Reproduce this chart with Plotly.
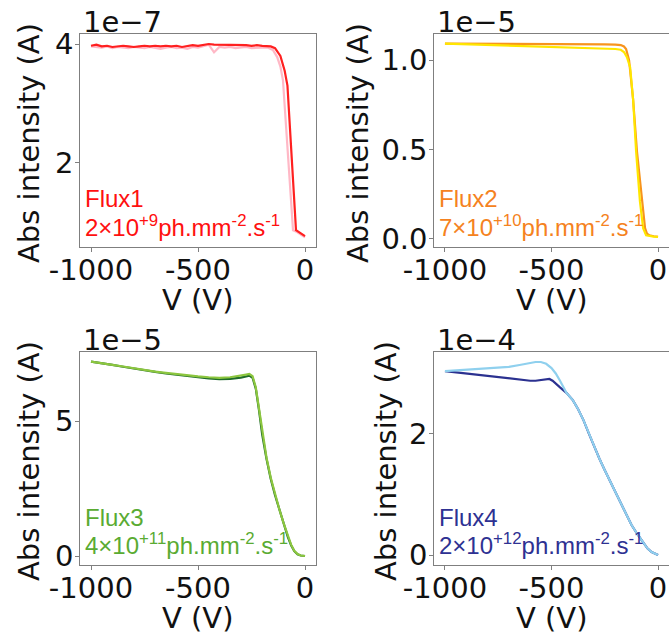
import plotly.graph_objects as go

# ---------------- data (current in the units shown by each panel's multiplier) -------------
# Flux1, multiplier 1e-7 A
v1_a = [-1000, -975, -950, -925, -900, -875, -850, -825, -800, -775, -750, -725, -700, -675,
        -650, -625, -600, -575, -550, -525, -500, -475, -450, -425, -400, -375, -350, -325,
        -300, -275, -250, -225, -200, -175, -150, -130, -115, -103, -80, -56, -37, -15, 0]
i1_a = [3.96, 3.95, 3.94, 3.96, 3.93, 3.95, 3.94, 3.93, 3.95, 3.94, 3.93, 3.95, 3.94, 3.92,
        3.94, 3.95, 3.93, 3.94, 3.92, 3.95, 3.94, 3.96, 3.99, 3.86, 3.95, 3.94, 3.95, 3.93,
        3.94, 3.95, 3.93, 3.94, 3.94, 3.94, 3.90, 3.78, 3.62, 3.39, 2.10, 0.87, 0.84, 0.79, 0.75]
v1_b = [-1000, -975, -950, -925, -900, -875, -850, -825, -800, -775, -750, -725, -700, -675,
        -650, -625, -600, -575, -550, -525, -500, -475, -450, -425, -400, -375, -350, -325,
        -300, -275, -250, -225, -200, -175, -160, -140, -115, -95, -82, -42, -30, -15, 0]
i1_b = [3.97, 3.99, 3.96, 3.97, 3.95, 3.96, 3.97, 3.96, 3.95, 3.96, 3.97, 3.96, 3.97, 3.96,
        3.97, 3.96, 3.97, 3.95, 3.96, 3.98, 3.97, 3.99, 4.00, 3.99, 3.99, 3.98, 3.99, 3.98,
        3.99, 3.98, 3.97, 3.98, 3.97, 3.97, 3.96, 3.93, 3.80, 3.55, 3.30, 0.87, 0.84, 0.80, 0.77]

# Flux2, multiplier 1e-5 A
v2_a = [-1000, -900, -800, -700, -600, -500, -400, -300, -250, -200, -175, -160, -150,
        -136, -117, -99, -75, -61, -52, -40, -20, 0]
i2_a = [1.092, 1.092, 1.091, 1.091, 1.090, 1.090, 1.089, 1.089, 1.088, 1.087, 1.084, 1.076,
        1.062, 1.000, 0.780, 0.490, 0.210, 0.060, 0.030, 0.020, 0.015, 0.012]
v2_b = [-1000, -900, -800, -700, -600, -500, -400, -300, -250, -200, -175, -160, -146,
        -131, -117, -103, -85, -70, -56, -40, -20, 0]
i2_b = [1.092, 1.088, 1.084, 1.080, 1.077, 1.074, 1.071, 1.068, 1.066, 1.062, 1.058, 1.045,
        1.017, 0.960, 0.780, 0.490, 0.210, 0.060, 0.020, 0.015, 0.013, 0.012]

# Flux3, multiplier 1e-5 A
v3_a = [-1000, -950, -900, -850, -800, -750, -700, -650, -600, -550, -500, -450, -400, -350,
        -300, -275, -260, -245, -230, -215, -200, -180, -160, -140, -120, -100, -80, -65,
        -50, -35, -20, 0]
i3_a = [7.20, 7.15, 7.08, 7.01, 6.94, 6.88, 6.82, 6.76, 6.71, 6.66, 6.62, 6.58, 6.55, 6.56,
        6.61, 6.66, 6.68, 6.60, 6.20, 5.40, 4.50, 3.60, 2.85, 2.25, 1.70, 1.20, 0.70, 0.40,
        0.18, 0.06, 0.02, 0.00]
v3_b = [-1000, -950, -900, -850, -800, -750, -700, -650, -600, -550, -500, -450, -400, -350,
        -300, -275, -260, -245, -230, -215, -200, -180, -160, -140, -120, -100, -80, -65,
        -50, -35, -20, 0]
i3_b = [7.20, 7.15, 7.08, 7.02, 6.95, 6.89, 6.83, 6.78, 6.73, 6.69, 6.65, 6.62, 6.60, 6.62,
        6.67, 6.72, 6.74, 6.66, 6.25, 5.45, 4.55, 3.65, 2.90, 2.28, 1.73, 1.22, 0.72, 0.42,
        0.19, 0.07, 0.02, 0.00]

# Flux4, multiplier 1e-4 A
v4_a = [-1000, -950, -900, -850, -800, -750, -700, -650, -600, -575, -550, -525, -510, -495,
        -480, -460, -430, -400, -375, -350, -325, -300, -275, -250, -225, -200, -175, -150,
        -125, -100, -75, -60, -50, -30, -15, 0]
i4_a = [3.04, 3.02, 3.00, 2.98, 2.96, 2.93, 2.91, 2.89, 2.88, 2.88, 2.89, 2.91, 2.91, 2.88,
        2.83, 2.77, 2.68, 2.56, 2.41, 2.23, 2.01, 1.79, 1.59, 1.40, 1.22, 1.05, 0.86, 0.67,
        0.50, 0.36, 0.23, 0.15, 0.11, 0.05, 0.02, 0.00]
v4_b = [-1000, -950, -900, -850, -800, -750, -700, -650, -600, -575, -550, -525, -500, -480,
        -460, -445, -430, -400, -375, -350, -325, -300, -275, -250, -225, -200, -175, -150,
        -125, -100, -75, -60, -50, -30, -15, 0]
i4_b = [3.04, 3.05, 3.06, 3.07, 3.08, 3.09, 3.11, 3.14, 3.17, 3.19, 3.19, 3.16, 3.09, 3.00,
        2.88, 2.78, 2.68, 2.56, 2.41, 2.23, 2.01, 1.79, 1.59, 1.40, 1.22, 1.05, 0.86, 0.67,
        0.50, 0.36, 0.23, 0.15, 0.11, 0.05, 0.02, 0.00]

flux_names = ["Flux1", "Flux2", "Flux3", "Flux4"]
flux_rates = ["2×10<sup>+9</sup>ph.mm<sup>-2</sup>.s<sup>-1</sup>",
              "7×10<sup>+10</sup>ph.mm<sup>-2</sup>.s<sup>-1</sup>",
              "4×10<sup>+11</sup>ph.mm<sup>-2</sup>.s<sup>-1</sup>",
              "2×10<sup>+12</sup>ph.mm<sup>-2</sup>.s<sup>-1</sup>"]
multipliers = ["1e−7", "1e−5", "1e−5", "1e−4"]
x_ticks = [-1000, -500, 0]
x_tick_text = ["-1000", "-500", "0"]
y_ticks = [[2, 4], [0.0, 0.5, 1.0], [0, 5], [0, 2]]
y_tick_text = [["2", "4"], ["0.0", "0.5", "1.0"], ["0", "5"], ["0", "2"]]
y_ranges = [[0.588, 4.168], [-0.045, 1.146], [-0.333, 7.556], [-0.165, 3.355]]

series = [
    [(v1_a, i1_a, "#ffb8c6"), (v1_b, i1_b, "#ff2020")],
    [(v2_a, i2_a, "#f7941d"), (v2_b, i2_b, "#ffe600")],
    [(v3_a, i3_a, "#1e6b2a"), (v3_b, i3_b, "#8cc63f")],
    [(v4_a, i4_a, "#2b3190"), (v4_b, i4_b, "#8fd0ee")],
]
label_colors = ["#ff1010", "#f58220", "#5aab32", "#2e3192"]

# ---------------- layout geometry (pixels of a 669 x 637 canvas) ----------------
W, H = 669, 637
boxes = [(80.3, 315.7, 34, 247), (434.3, 668.7, 34, 247),
         (80.3, 315.7, 352, 565), (434.3, 668.7, 352, 565)]
# horizontal centre of each y-axis title (wider tick labels push it further left)
ytitle_x = [29, 358, 29, 386]


def px(x):
    return x / W


def py(y):
    return 1 - y / H


fig = go.Figure()
tick_font = dict(family="DejaVu Sans", size=29, color="#111111")
annotations = []

for k in range(4):
    xn = "x" if k == 0 else f"x{k + 1}"
    yn = "y" if k == 0 else f"y{k + 1}"
    for v, c, col in series[k]:
        fig.add_trace(go.Scatter(x=v, y=c, mode="lines", xaxis=xn, yaxis=yn,
                                 line=dict(color=col, width=2.2), showlegend=False))
    x0, x1, y0, y1 = boxes[k]
    axis_common = dict(showline=True, mirror=True, linecolor="#7f7f7f", linewidth=1,
                       ticks="outside", ticklen=4, tickcolor="#7f7f7f", tickwidth=1,
                       showgrid=False, zeroline=False, tickfont=tick_font,
                       automargin=False)
    fig.layout[("xaxis" if k == 0 else f"xaxis{k + 1}")] = dict(
        domain=[px(x0), px(x1)], range=[-1050, 50], anchor=yn,
        tickvals=x_ticks, ticktext=x_tick_text, ticklabelstandoff=-7, **axis_common)
    fig.layout[("yaxis" if k == 0 else f"yaxis{k + 1}")] = dict(
        domain=[py(y1), py(y0)], range=y_ranges[k], anchor=xn,
        tickvals=y_ticks[k], ticktext=y_tick_text[k], ticklabelstandoff=-4, **axis_common)

    # scale multiplier just above the frame
    annotations.append(dict(text=multipliers[k], xref="paper", yref="paper",
                            x=px(x0 + 1), y=py(y0 - 12), xanchor="left", yanchor="middle",
                            showarrow=False, font=tick_font))
    # axis titles
    annotations.append(dict(text="Abs intensity (A)", xref="paper", yref="paper",
                            x=px(ytitle_x[k]), y=py((y0 + y1) / 2 + 2.5), textangle=-90,
                            xanchor="center", yanchor="middle", showarrow=False,
                            font=tick_font))
    annotations.append(dict(text="V (V)", xref="paper", yref="paper",
                            x=px((x0 + x1) / 2), y=py(y1 + 53), xanchor="center",
                            yanchor="middle", showarrow=False, font=tick_font))
    # flux labels
    lab_font = dict(family="Liberation Sans", size=24, color=label_colors[k])
    annotations.append(dict(text=flux_names[k], xref="paper", yref="paper",
                            x=px(x0 + 3), y=py(y1 - 48), xanchor="left", yanchor="middle",
                            showarrow=False, font=lab_font))
    annotations.append(dict(text=flux_rates[k], xref="paper", yref="paper",
                            x=px(x0 + 3), y=py(y1 - 21), xanchor="left", yanchor="middle",
                            showarrow=False, font=lab_font))

fig.update_layout(width=W, height=H, margin=dict(l=0, r=0, t=0, b=0),
                  paper_bgcolor="white", plot_bgcolor="white",
                  annotations=annotations)
fig.write_html("out.html")
